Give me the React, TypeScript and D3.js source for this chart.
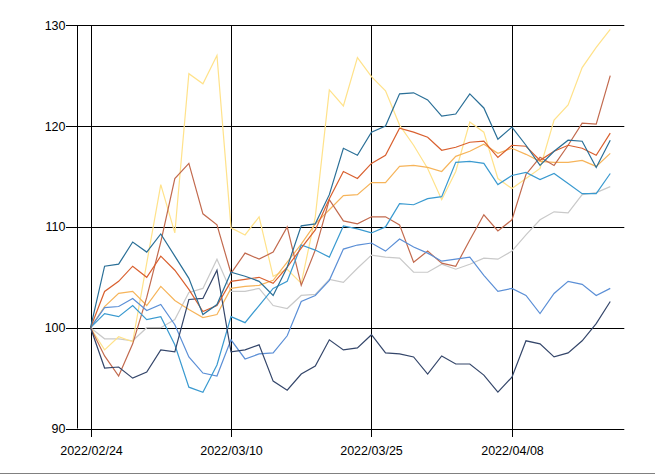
import React from "react";
import * as d3 from "d3";

const dates = [
  "2022/02/24", "2022/02/25", "2022/02/28", "2022/03/01", "2022/03/02", "2022/03/03", "2022/03/04",
  "2022/03/07", "2022/03/08", "2022/03/09", "2022/03/10", "2022/03/11", "2022/03/14", "2022/03/15",
  "2022/03/16", "2022/03/17", "2022/03/18", "2022/03/22", "2022/03/23", "2022/03/24", "2022/03/25",
  "2022/03/28", "2022/03/29", "2022/03/30", "2022/03/31", "2022/04/01", "2022/04/04", "2022/04/05",
  "2022/04/06", "2022/04/07", "2022/04/08", "2022/04/11", "2022/04/12", "2022/04/13", "2022/04/14",
  "2022/04/15", "2022/04/18", "2022/04/19",
];

const xTickLabels = ["2022/02/24", "2022/03/10", "2022/03/25", "2022/04/08"];
const yTicks = [90, 100, 110, 120, 130];

const teal = [100, 106.1, 106.3, 108.5, 107.5, 109.3, 107.1, 104.9, 101.3, 102.3, 105.5, 105.1, 104.6, 103.2, 106, 110.1, 110.3, 113.2, 117.8, 117.1, 119.4, 120, 123.2, 123.3, 122.6, 121, 121.2, 123.2, 121.8, 118.7, 119.9, 118.1, 116.1, 117.5, 118.6, 118.5, 115.9, 118.6];
const orangeRed = [100, 103.6, 104.6, 106.1, 105, 107.1, 105.7, 103.8, 101.6, 102.2, 104.6, 104.8, 105, 104.4, 106, 107.9, 109.7, 112.8, 115.5, 114.8, 116.3, 117.1, 119.8, 119.4, 118.9, 117.6, 117.9, 118.4, 118.5, 116.9, 118.1, 118, 116.6, 117.5, 118.1, 117.8, 117.1, 119.3];
const yellow = [100, 97.8, 99.1, 98.6, 106.4, 114.2, 109.4, 125.2, 124.2, 127, 109.9, 109.2, 111, 105.1, 105.8, 104.4, 111, 123.6, 122, 126.8, 124.9, 123.5, 120.1, 118.1, 115.8, 112.7, 115.5, 120.4, 119.4, 114.8, 113.8, 114.8, 115.8, 120.6, 122.1, 125.8, 127.8, 129.6];
const lightOrange = [100, 102.1, 103.4, 103.6, 102.2, 104.1, 102.7, 101.8, 101, 101.3, 103.9, 104.1, 104.2, 104.7, 106.5, 108.3, 110.3, 111.7, 113.1, 113.2, 114.4, 114.4, 116, 116.1, 115.9, 115.5, 117, 117.5, 118.2, 117.3, 117.8, 117.2, 116.5, 116.4, 116.4, 116.6, 116, 117.3];
const brown = [100, 97.2, 95.2, 98.4, 103, 108.5, 114.8, 116.3, 111.3, 110.2, 105.4, 107.4, 106.8, 107.5, 110, 104.2, 107.7, 112.7, 110.6, 110.3, 111, 111, 110.2, 106.5, 107.6, 106.4, 106.1, 108.7, 111.2, 109.6, 110.7, 115.2, 116.9, 116.1, 118.1, 120.3, 120.2, 125];
const cyan = [100, 101.4, 101.1, 102.2, 100.8, 101.1, 98.3, 94.1, 93.6, 96.3, 101.1, 100.5, 102.2, 103.9, 104.6, 108.2, 107.7, 107, 110.1, 109.8, 109.4, 110, 112.3, 112.2, 112.8, 113, 116.4, 116.5, 116.3, 114.2, 115.1, 115.4, 114.7, 115.3, 114.3, 113.3, 113.3, 115.3];
const medBlue = [100, 102, 102.1, 102.9, 101.7, 102.3, 100.3, 97.1, 95.5, 95.2, 98.8, 96.9, 97.4, 97.5, 99.2, 102.6, 103.2, 104.7, 107.8, 108.2, 108.4, 107.6, 108.8, 108, 107.4, 106.6, 106.8, 107, 105.2, 103.6, 103.9, 103.2, 101.4, 103.4, 104.6, 104.3, 103.2, 103.9];
const gray = [100, 98.9, 98.9, 98.7, 100, 100, 100.8, 103.5, 103.9, 106.8, 103.6, 103.6, 103.9, 102.2, 101.9, 103.2, 103.3, 104.8, 104.5, 105.9, 107.2, 107, 106.9, 105.5, 105.5, 106.3, 105.8, 106.3, 106.9, 106.8, 107.6, 109.2, 110.7, 111.5, 111.4, 113.2, 113.4, 114];
const navy = [100, 96, 96.1, 95, 95.6, 97.8, 97.6, 102.8, 102.9, 105.7, 97.6, 97.8, 98.3, 94.7, 93.8, 95.4, 96.2, 98.8, 97.8, 98, 99.3, 97.5, 97.4, 97.1, 95.4, 97.2, 96.4, 96.4, 95.3, 93.6, 95.1, 98.7, 98.4, 97.1, 97.5, 98.7, 100.4, 102.6];

const seriesList = [gray, yellow, lightOrange, brown, medBlue, cyan, navy, orangeRed, teal];
const colors = ["#C9C9C9", "#FFE28A", "#F6B45A", "#C26A4E", "#5B8FD6", "#3A9AD0", "#34466A", "#D9602F", "#2A6F97"];

const W = 655;
const H = 474;

export default function App() {
  const x = d3.scaleLinear().domain([-1, 38]).range([76.5, 624.3]);
  const y = d3.scaleLinear().domain([90, 130]).range([428.5, 25.3]);
  const line = d3
    .line<number>()
    .x((_, i) => x(i))
    .y((d) => y(d));
  const font = "'Liberation Sans', Arial, sans-serif";
  const x0 = x.range()[0];
  const x1 = x.range()[1];
  return (
    <svg
      width={W}
      height={H}
      style={{ position: "absolute", left: 0, top: 0, background: "#fff" }}
    >
      <rect x={0} y={0} width={W} height={H} fill="#fff" />
      {yTicks.map((t) => (
        <g key={t}>
          <line x1={x0 - 10.5} x2={x1} y1={Math.round(y(t)) + 0.5} y2={Math.round(y(t)) + 0.5} stroke="#000" strokeWidth={1} />
          <text x={x0 - 11} y={y(t)} dy="0.36em" textAnchor="end" fontFamily={font} fontSize={12.5} fill="#000">
            {t}
          </text>
        </g>
      ))}
      <line x1={Math.round(x0) + 0.5} x2={Math.round(x0) + 0.5} y1={y(130)} y2={y(90)} stroke="#000" />
      {xTickLabels.map((lab) => {
        const i = dates.indexOf(lab);
        const px = Math.round(x(i)) + 0.5;
        return (
          <g key={lab}>
            <line x1={px} x2={px} y1={y(130)} y2={y(90) + 8.5} stroke="#000" />
            <text x={px} y={y(90) + 26} textAnchor="middle" fontFamily={font} fontSize={12.5} fill="#000">
              {lab}
            </text>
          </g>
        );
      })}
      {seriesList.map((s, k) => (
        <path key={k} d={line(s) || ""} fill="none" stroke={colors[k]} strokeWidth={1.2} />
      ))}
      <line x1={0} x2={W} y1={H - 0.5} y2={H - 0.5} stroke="#808080" />
    </svg>
  );
}
